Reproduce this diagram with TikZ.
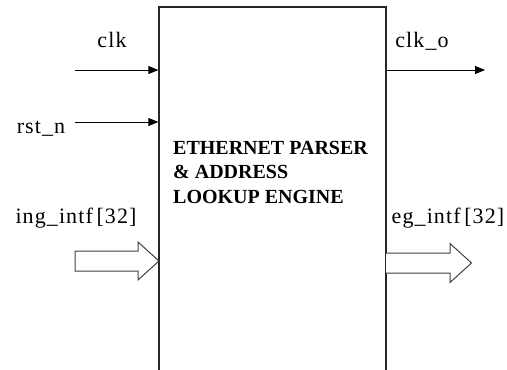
\documentclass[tikz,border=0pt]{standalone}
\usepackage{fontspec}
\setmainfont{Liberation Serif}
\usepackage{tikz}
\usetikzlibrary{arrows.meta,positioning,calc}

\tikzset{
  sig/.style={line width=0.9pt, -{Triangle[length=10pt,width=8pt]}},
  bus/.style={line width=1pt, draw=black!75, fill=white},
  lbl/.style={inner sep=0pt, anchor=base, font=\fontsize{22}{26}\selectfont\addfontfeature{LetterSpace=5}},
}

\begin{document}
\begin{tikzpicture}[x=1pt,y=-1pt]
              \useasboundingbox (0,0) rectangle (507,370);
              \clip (0,0) rectangle (507,370);
              \node[draw=black!85, line width=1.3pt, minimum width=227pt, minimum height=386pt, inner sep=0pt] at (272.5,200) (eng) {};
              \node[anchor=base west, inner sep=0pt, align=left, font=\bfseries\fontsize{20}{24.5}\selectfont] at (173,203) (title) {ETHERNET PARSER\\\& ADDRESS\\LOOKUP ENGINE};

              \node[lbl] at (112,47) (clk) {clk};
              \node[lbl] at (41,133) (rst) {rst\_n};
              \node[lbl] at (422,47) (clko) {clk\_o};
              \node[lbl] at (76,223) (ing) {ing\_intf\,[32]};
              \node[lbl] at (448,223) (eg) {eg\_intf\,[32]};

              \coordinate (clkin) at (75,70);
              \coordinate (rstin) at (75,122);
              \coordinate (clkout) at (485,70);
              \coordinate (ingin) at (75,261);
              \coordinate (egout) at (386,263);

              \draw[sig] (clkin)--(clkin -| eng.west);
              \draw[sig] (rstin)--(rstin -| eng.west);
              \draw[sig] (clkout -| eng.east)--(clkout);

              \draw[bus] (ingin) ++(0,-10) -- ++(63,0) -- ++(0,-9) -- ++(21,19) -- ++(-21,19) -- ++(0,-9) -- ++(-63,0) -- cycle;
              \draw[bus] (egout) ++(0,-10) -- ++(64,0) -- ++(0,-9.5) -- ++(21.5,19.5) -- ++(-21.5,19.5) -- ++(0,-9.5) -- ++(-64,0);
            \end{tikzpicture}
\end{document}
